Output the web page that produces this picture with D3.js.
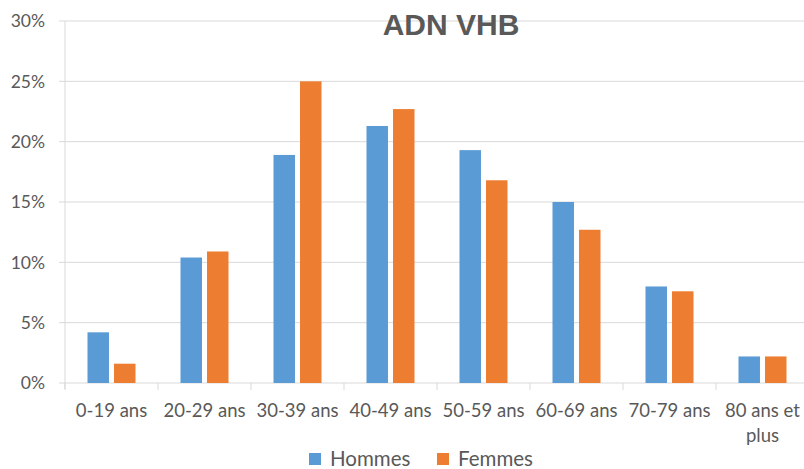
<!DOCTYPE html>
<html>
<head>
<meta charset="utf-8">
<script src="https://d3js.org/d3.v7.min.js"></script>
<style>
  body { margin: 0; background: #fff; }
  text { font-family: Lato, "Liberation Sans", sans-serif; fill: #595959; }
</style>
</head>
<body>
<svg id="chart" width="804" height="469"></svg>
<script>
// data
const categories = ["0-19 ans", "20-29 ans", "30-39 ans", "40-49 ans", "50-59 ans", "60-69 ans", "70-79 ans", "80 ans et plus"]
const hommes = [4.2, 10.4, 18.9, 21.3, 19.3, 15.0, 8.0, 2.2]
const femmes = [1.6, 10.9, 25.0, 22.7, 16.8, 12.7, 7.6, 2.2]
const seriesNames = ["Hommes", "Femmes"]
const seriesColors = ["#5B9BD5", "#ED7D31"]
const yTicks = [0, 5, 10, 15, 20, 25, 30]

const plotLeft = 65, plotRight = 809, plotTop = 21, plotBottom = 383
const gridColor = "#d9d9d9"

const svg = d3.select("#chart")

const x0 = d3.scaleBand().domain(categories).range([plotLeft, plotRight])
const x1 = d3.scaleBand().domain(seriesNames).range([22.5, 70.5]).paddingInner(0.19)
const y = d3.scaleLinear().domain([0, 30]).range([plotBottom, plotTop])

// gridlines
svg.append("g").selectAll("line")
  .data(yTicks)
  .join("line")
    .attr("x1", plotLeft - 6)
    .attr("x2", plotRight)
    .attr("y1", d => y(d))
    .attr("y2", d => y(d))
    .attr("stroke", gridColor)
    .attr("stroke-width", 1)

// y axis line
svg.append("line")
  .attr("x1", plotLeft).attr("x2", plotLeft)
  .attr("y1", plotTop).attr("y2", plotBottom + 6)
  .attr("stroke", gridColor)

// y tick labels
svg.append("g").selectAll("text")
  .data(yTicks)
  .join("text")
    .attr("x", 45)
    .attr("y", d => y(d))
    .attr("dy", "0.36em")
    .attr("text-anchor", "end")
    .style("font-size", "17.5px")
    .text(d => d + "%")

// title (drawn over the top gridline)
svg.append("text")
  .attr("x", 451)
  .attr("y", 35)
  .attr("text-anchor", "middle")
  .style("font-size", "30px")
  .style("font-weight", "bold")
  .style("font-family", "'Liberation Sans', sans-serif")
  .text("ADN VHB")

// bars
const rows = categories.map((c, i) => ({ cat: c, vals: [hommes[i], femmes[i]] }))
const groups = svg.append("g").selectAll("g")
  .data(rows)
  .join("g")
    .attr("transform", d => "translate(" + x0(d.cat) + ",0)")
groups.selectAll("rect")
  .data(d => d.vals.map((v, j) => ({ name: seriesNames[j], v: v, j: j })))
  .join("rect")
    .attr("x", d => x1(d.name))
    .attr("width", x1.bandwidth())
    .attr("y", d => y(d.v))
    .attr("height", d => y(0) - y(d.v))
    .attr("fill", d => seriesColors[d.j])

// category ticks on the x axis
svg.append("g").selectAll("line")
  .data(categories)
  .join("line")
    .attr("x1", d => x0(d)).attr("x2", d => x0(d))
    .attr("y1", plotBottom).attr("y2", plotBottom + 7)
    .attr("stroke", gridColor)

// category labels, wrapped when too long
const catLabels = svg.append("g").selectAll("text")
  .data(categories)
  .join("text")
    .attr("x", d => x0(d) + x0.bandwidth() / 2)
    .attr("y", 417)
    .attr("text-anchor", "middle")
    .style("font-size", "18.5px")
catLabels.each(function(d) {
  const lines = d === "80 ans et plus" ? ["80 ans et", "plus"] : [d]
  d3.select(this).selectAll("tspan")
    .data(lines)
    .join("tspan")
      .attr("x", x0(d) + x0.bandwidth() / 2)
      .attr("dy", (l, i) => i === 0 ? 0 : 25)
      .text(l => l)
})

// legend
const legendX = [309, 437]
const legend = svg.append("g").selectAll("g")
  .data(seriesNames)
  .join("g")
    .attr("transform", (d, i) => "translate(" + legendX[i] + ",453)")
legend.append("rect")
  .attr("width", 12).attr("height", 12)
  .attr("fill", (d, i) => seriesColors[i])
legend.append("text")
  .attr("x", 21)
  .attr("y", 13)
  .style("font-size", "20.5px")
  .text(d => d)
</script>
</body>
</html>
